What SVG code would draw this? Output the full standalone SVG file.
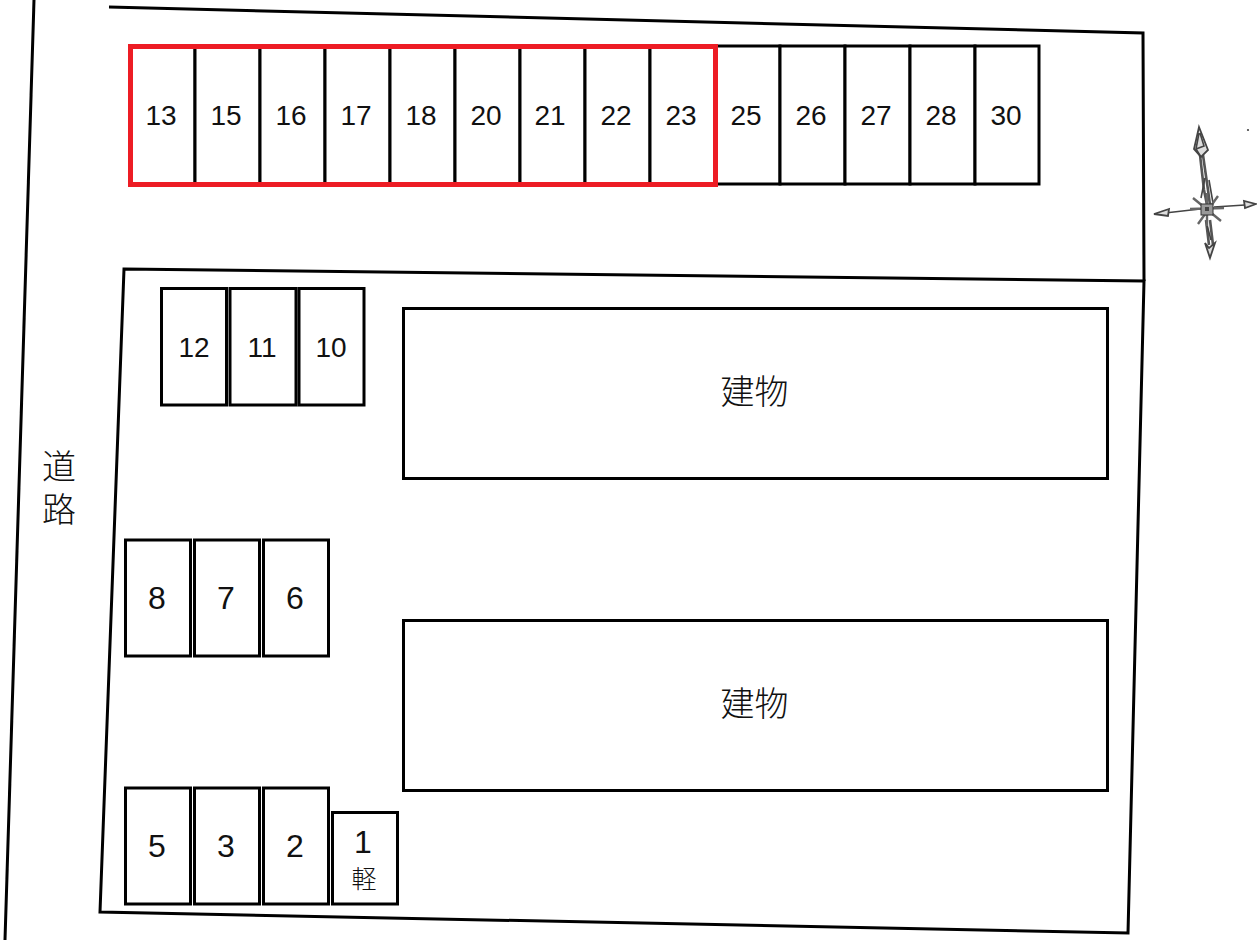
<svg xmlns="http://www.w3.org/2000/svg" width="1257" height="940" viewBox="0 0 1257 940">
<style>
.s{fill:#fff;stroke:#000;stroke-width:3}
.b{fill:#fff;stroke:#000;stroke-width:3}
.l{fill:none;stroke:#000;stroke-width:3}
.r{fill:none;stroke:#ed1c24;stroke-width:5}
text{font-family:"Liberation Sans","Noto Sans CJK JP",sans-serif;fill:#111;text-anchor:middle}
.t2{font-size:28px}
.t1{font-size:32px}
.j{font-size:34px;font-family:"Noto Sans CJK JP",sans-serif;font-weight:300}
.v{writing-mode:vertical-rl;text-anchor:start;letter-spacing:9px}
.k{font-size:25px;font-family:"Noto Sans CJK JP",sans-serif;font-weight:300}
.c{fill:none;stroke:#444;stroke-width:1.6}
.h{fill:#ddd;stroke:#444;stroke-width:1.8}
.y{fill:none;stroke:#555;stroke-width:2.6}
</style>
<rect width="1257" height="940" fill="#fff"/>
<g id="connectors">
<path class="l" d="M34 0L5 940"/>
<path class="l" d="M109 7L1143 33L1144 281"/>
<path class="l" d="M124 269L1144 281L1128 933L100 912Z"/>
</g>
<g id="n13"><rect class="s" x="130" y="46" width="65" height="138"/><text class="t2" x="161" y="125">13</text></g>
<g id="n15"><rect class="s" x="195" y="46" width="65" height="138"/><text class="t2" x="226" y="125">15</text></g>
<g id="n16"><rect class="s" x="260" y="46" width="65" height="138"/><text class="t2" x="291" y="125">16</text></g>
<g id="n17"><rect class="s" x="325" y="46" width="65" height="138"/><text class="t2" x="356" y="125">17</text></g>
<g id="n18"><rect class="s" x="390" y="46" width="65" height="138"/><text class="t2" x="421" y="125">18</text></g>
<g id="n20"><rect class="s" x="455" y="46" width="65" height="138"/><text class="t2" x="486" y="125">20</text></g>
<g id="n21"><rect class="s" x="520" y="46" width="65" height="138"/><text class="t2" x="550" y="125">21</text></g>
<g id="n22"><rect class="s" x="585" y="46" width="65" height="138"/><text class="t2" x="616" y="125">22</text></g>
<g id="n23"><rect class="s" x="650" y="46" width="65" height="138"/><text class="t2" x="681" y="125">23</text></g>
<g id="n25"><rect class="s" x="715" y="46" width="65" height="138"/><text class="t2" x="746" y="125">25</text></g>
<g id="n26"><rect class="s" x="780" y="46" width="65" height="138"/><text class="t2" x="811" y="125">26</text></g>
<g id="n27"><rect class="s" x="845" y="46" width="65" height="138"/><text class="t2" x="876" y="125">27</text></g>
<g id="n28"><rect class="s" x="910" y="46" width="65" height="138"/><text class="t2" x="941" y="125">28</text></g>
<g id="n30"><rect class="s" x="975" y="46" width="64" height="138"/><text class="t2" x="1006" y="125">30</text></g>
<g id="selection"><rect class="r" x="130.500" y="46.500" width="585" height="138"/></g>
<g id="n12"><rect class="s" x="161.500" y="288.500" width="65" height="116.500"/><text class="t2" x="194" y="357">12</text></g>
<g id="n11"><rect class="s" x="230" y="288.500" width="66" height="116.500"/><text class="t2" x="262" y="357">11</text></g>
<g id="n10"><rect class="s" x="299" y="288.500" width="65" height="116.500"/><text class="t2" x="331" y="357">10</text></g>
<g id="n8"><rect class="s" x="125.500" y="540" width="65" height="116"/><text class="t1" x="157" y="609">8</text></g>
<g id="n7"><rect class="s" x="194.500" y="540" width="65" height="116"/><text class="t1" x="226" y="609">7</text></g>
<g id="n6"><rect class="s" x="263.500" y="540" width="65" height="116"/><text class="t1" x="295" y="609">6</text></g>
<g id="n5"><rect class="s" x="125.500" y="788" width="65" height="116"/><text class="t1" x="157" y="857">5</text></g>
<g id="n3"><rect class="s" x="194.500" y="788" width="65" height="116"/><text class="t1" x="226" y="857">3</text></g>
<g id="n2"><rect class="s" x="263.500" y="788" width="65" height="116"/><text class="t1" x="295" y="857">2</text></g>
<g id="n1"><rect class="s" x="332.500" y="812.500" width="65" height="91.500"/><text class="t1" x="363" y="853">1</text><text class="k" x="364" y="888">軽</text></g>
<g id="b1"><rect class="b" x="403.500" y="308.500" width="704" height="170"/><text class="j" x="754.500" y="404">建物</text></g>
<g id="b2"><rect class="b" x="403.500" y="620.500" width="704" height="170"/><text class="j" x="754.500" y="716">建物</text></g>
<g id="road"><text class="j v" x="59" y="449">道路</text></g>
<g id="compass">
<path class="y" d="M1200 155L1204 190L1207 205M1203 155L1208 190L1210 205M1206 220L1209 245M1210 220L1213 245"/>
<path class="c" d="M1205 178L1201 198M1209 180L1213 203M1207 225L1211 240"/>
<path class="h" d="M1199 127L1208 150L1201 157L1194 149Z"/>
<path class="c" d="M1199 133L1196 149L1204 146L1200 133M1196 149L1201 157"/>
<path class="h" d="M1210 258L1205 243L1209 248L1215 243Z"/>
<path class="c" d="M1165 213L1200 209M1214 207L1245 205"/>
<path class="h" d="M1154 214L1169 209L1168 216Z"/>
<path class="h" d="M1256 204L1244 201L1245 208Z"/>
<path style="fill:none;stroke:#666;stroke-width:2.4" d="M1193 198L1221 221M1218 196L1198 224M1207 193L1207 226M1190 209L1224 208"/>
<rect x="1201" y="204" width="12" height="11" fill="#999" stroke="#333"/>
<rect x="1205" y="207" width="4" height="4" fill="#444"/>
<circle cx="1248" cy="130" r="1.100" fill="#444"/>
</g>
</svg>
